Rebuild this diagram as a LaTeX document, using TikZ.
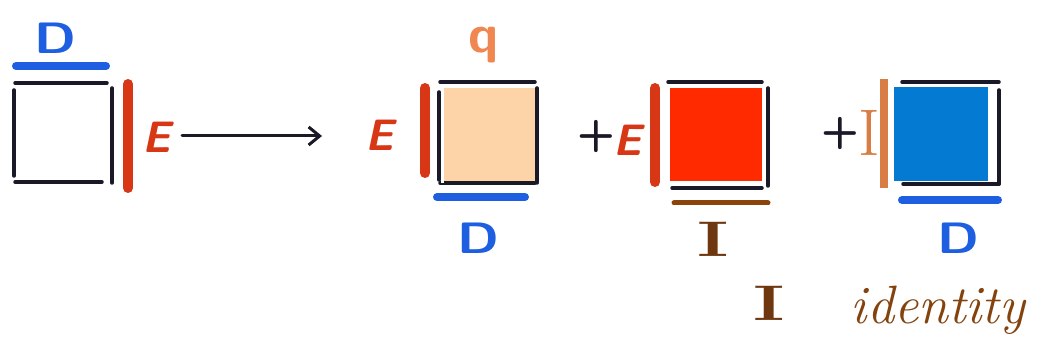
\documentclass[tikz,border=0pt]{standalone}
\usetikzlibrary{arrows.meta}
\definecolor{dblue}{RGB}{30,95,225}
\definecolor{ered}{RGB}{215,55,20}
\definecolor{peach}{RGB}{253,211,168}
\definecolor{bred}{RGB}{255,42,0}
\definecolor{bblue}{RGB}{5,122,210}
\definecolor{iorange}{RGB}{216,125,68}
\definecolor{ibrown}{RGB}{110,55,15}
\definecolor{qorange}{RGB}{240,135,80}
\definecolor{ink}{RGB}{25,25,40}
\tikzset{
  edge/.style={draw=ink,line width=3.5pt,line cap=round},
  bar/.style={line width=8pt,line cap=round},
  lbl/.style={inner sep=0pt,font=\fontsize{44}{44}\selectfont\sffamily\bfseries},
  elbl/.style={lbl,text=ered,font=\fontsize{44}{44}\selectfont\sffamily\bfseries\itshape},
  dlbl/.style={lbl,text=dblue,xscale=1.2},
  ilbl/.style={inner sep=0pt,text=ibrown,xscale=1.5,font=\fontsize{50}{50}\selectfont\bfseries},
  plbl/.style={inner sep=0pt,text=ink,font=\fontsize{44}{44}\selectfont\sffamily\bfseries},
}
\begin{document}
\begin{tikzpicture}[x=1pt,y=-1pt]
\useasboundingbox (0,0) rectangle (1045,358);
% ---- box 1
\draw[edge] (15,83) -- (107,83);
\draw[edge] (15,182) -- (102,182);
\draw[edge] (14,90) -- (14,176);
\draw[edge] (112,88) -- (112,183);
\draw[bar,draw=dblue] (16,66) -- (106,66);
\draw[bar,draw=ered,line width=10pt] (128,84) -- (128,188);
\node[dlbl] (D1) at (55,38) {D};
\node[elbl] (E1) at (157,137) {E};
\coordinate (arrowend) at (322,136);
\draw[draw=ink,line width=3pt,line cap=round,-{Straight Barb[length=11pt,width=18pt]}] (182,136) -- (arrowend);
% ---- box 2 (peach)
\fill[peach] (444,88) rectangle (538,181);
\draw[edge] (440,82) -- (535,82);
\draw[edge] (440,183) -- (535,183);
\draw[edge] (439,92) -- (439,180);
\draw[edge] (537,88) -- (537,183);
\fill[white] (441,86) rectangle (444,183);
\draw[bar,draw=ered,line width=10pt] (425,88) -- (425,173);
\draw[bar,draw=dblue] (437,197) -- (525,197);
\node[elbl] (E2) at (380,135) {E};
\node[inner sep=0pt,text=qorange,font=\fontsize{54}{54}\selectfont\sffamily\bfseries] (q) at (484,45) {q};
\node[dlbl] (D2) at (478,238) {D};
% ---- box 3 (red)
\fill[bred] (670,88) rectangle (762,181);
\draw[edge] (668,82) -- (762,82);
\draw[edge] (672,188) -- (762,188);
\draw[edge] (768,88) -- (768,186);
\draw[white,line width=2pt] (669,182) -- (763,182) -- (763,86);
\draw[bar,draw=ered,line width=10pt] (655,88) -- (655,182);
\draw[line width=5pt,draw=ibrown!80!orange,line cap=round] (674,203) -- (768,203);
\node[plbl] (plus1) at (596,137) {+};
\node[elbl] (E3) at (628,140) {E};
\node[ilbl] (I1) at (713,239) {I};
% ---- box 4 (blue)
\fill[bblue] (894,87) rectangle (988,181);
\draw[edge] (902,82) -- (999,82);
\draw[edge] (903,184) -- (999,184);
\draw[edge] (999,90) -- (999,184);
\fill[iorange] (880,79) rectangle (888,188);
\draw[bar,draw=dblue] (902,200) -- (998,200);
\node[plbl] (plus2) at (840,134) {+};
\node[inner sep=0pt,text=iorange,font=\fontsize{66}{66}\selectfont] (I2) at (869,133) {I};
\node[dlbl] (D3) at (958,238) {D};
% ---- bottom labels
\node[ilbl] (I3) at (769,303) {I};
\node[inner sep=0pt,text=ibrown!85!orange,font=\fontsize{54}{54}\selectfont\itshape] (id) at (938,310) {identity};
\end{tikzpicture}
\end{document}
